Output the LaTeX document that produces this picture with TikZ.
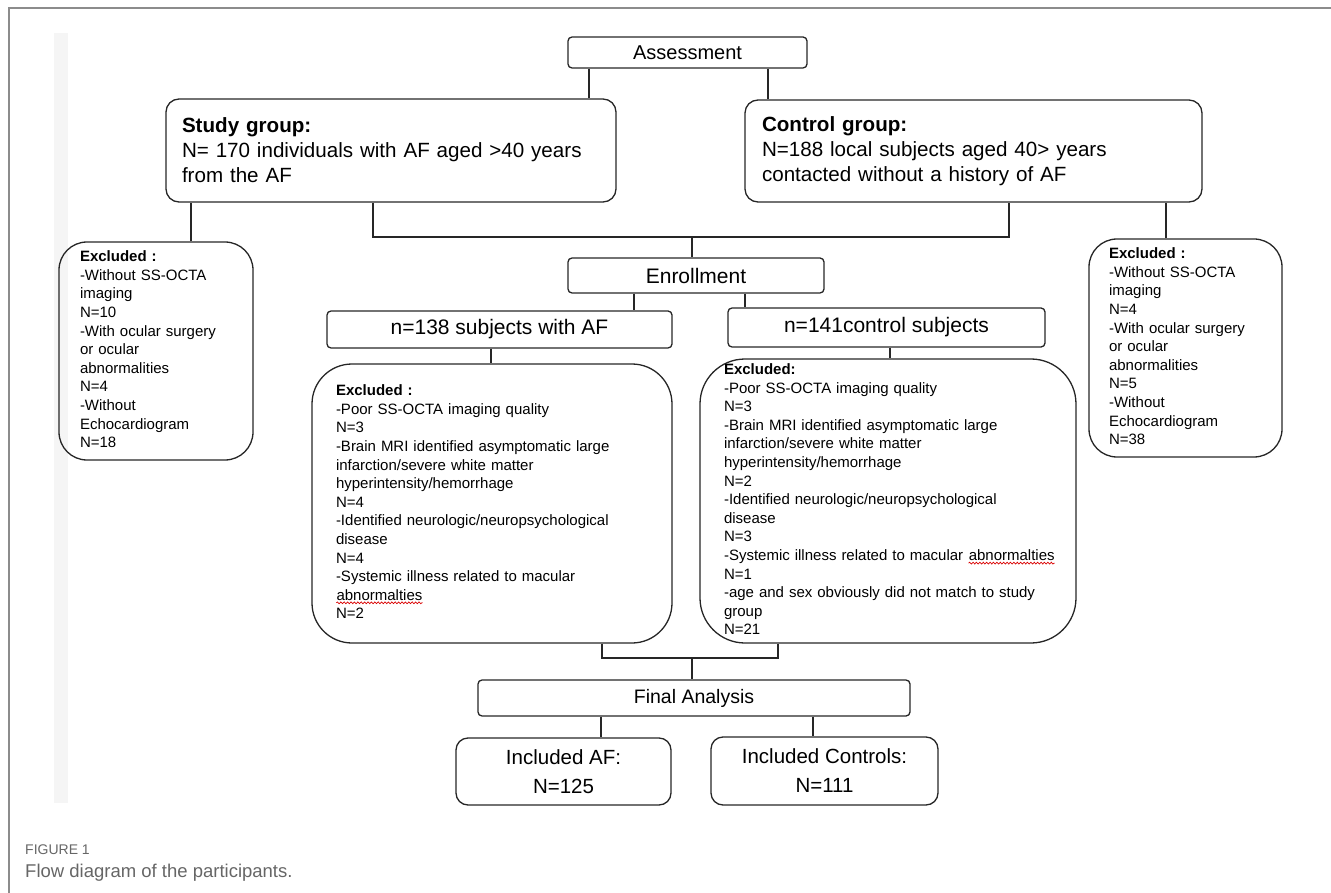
\documentclass[tikz,border=0pt]{standalone}
\usepackage{fontspec}
\setmainfont{Liberation Sans}
\usetikzlibrary{positioning,decorations.pathmorphing}
\newcommand{\typo}[1]{\tikz[baseline=(w.base)]{\node[inner sep=0pt, minimum size=0pt, text width={}, draw=none, rounded corners=0pt] (w) {#1}; \draw[sharp corners, red!85!black, line width=0.7pt, decorate, decoration={snake, amplitude=0.9pt, segment length=3.4pt}] ([yshift=-2.6pt]w.base west) -- ([yshift=-2.6pt]w.base east);}}

\begin{document}
\begin{tikzpicture}[x=1pt,y=-1pt]
    \tikzstyle{link} = [line width=1.3pt, draw=black!85]
       \tikzset{stage/.style = {rectangle, draw=black!85, line width=1.3pt, rounded corners=4pt, inner sep=0pt, text centered}, }
       \tikzset{group/.style = {rectangle, draw=black!85, line width=1.3pt, rounded corners=13pt, align=left, inner ysep=0pt, font=\fontsize{20.6}{25}\selectfont}, }
       \tikzset{excl/.style = {rectangle, draw=black!85, line width=1.3pt, align=left, inner ysep=0pt, font=\fontsize{15}{18.6}\selectfont}, }
       \tikzset{result/.style = {rectangle, draw=black!85, line width=1.3pt, rounded corners=12pt, align=center, inner sep=0pt, font=\fontsize{20.5}{29}\selectfont}, }

       \useasboundingbox (0,0) rectangle (1331,893);
       \fill[black!4] (54,33) rectangle (68,803);
       \draw[black!45, line width=1.2pt] (9,893) -- (9,8) -- (1331,8);

       \node[stage, minimum width=239pt, minimum height=31pt, font=\fontsize{20}{24}\selectfont] (assess) at (687.5,52.5) {Assessment};
       \node[group, text width=418pt, inner xsep=16pt, minimum height=103pt] (study) at (391,150.5) {\textbf{Study group:}\\
       N= 170 individuals with AF aged >40 years\\
       from the AF};
       \node[group, text width=423pt, inner xsep=17pt, minimum height=102pt] (control) at (973.5,151) {\textbf{Control group:}\\
       N=188 local subjects aged 40> years\\
       contacted without a history of AF};
       \node[excl, text width=152pt, inner xsep=21pt, minimum height=218pt, rounded corners=28pt] (exclL) at (156,351) {\begin{tabular}{@{}l@{}}
       \textbf{Excluded :}\\
       -Without SS-OCTA\\
       imaging\\
       N=10\\
       -With ocular surgery\\
       or ocular\\
       abnormalities\\
       N=4\\
       -Without\\
       Echocardiogram\\
       N=18
       \end{tabular}};
       \node[excl, text width=153pt, inner xsep=20pt, minimum height=218pt, rounded corners=28pt] (exclR) at (1185.5,348) {\begin{tabular}{@{}l@{}}
       \textbf{Excluded :}\\
       -Without SS-OCTA\\
       imaging\\
       N=4\\
       -With ocular surgery\\
       or ocular\\
       abnormalities\\
       N=5\\
       -Without\\
       Echocardiogram\\
       N=38
       \end{tabular}};
       \node[stage, minimum width=256pt, minimum height=35pt, font=\fontsize{21}{25}\selectfont] (enroll) at (696,275.5) {Enrollment};
       \node[stage, minimum width=345pt, minimum height=37pt, font=\fontsize{21}{25}\selectfont] (n138) at (499.5,329.5) {n=138 subjects with AF};
       \node[stage, minimum width=317pt, minimum height=39pt, font=\fontsize{21}{25}\selectfont] (n141) at (886.5,327.5) {n=141control subjects};
       \node[excl, text width=312pt, inner xsep=24pt, minimum height=279pt, rounded corners=40pt] (exclA) at (492,503.5) {\begin{tabular}{@{}l@{}}
       \textbf{Excluded :}\\
       -Poor SS-OCTA imaging quality\\
       N=3\\
       -Brain MRI identified asymptomatic large\\
       infarction/severe white matter\\
       hyperintensity/hemorrhage\\
       N=4\\
       -Identified neurologic/neuropsychological\\
       disease\\
       N=4\\
       -Systemic illness related to macular\\
       \typo{abnormalties}\\
       N=2
       \end{tabular}};
       \node[excl, text width=328pt, inner xsep=24pt, minimum height=284pt, rounded corners=45pt] (exclC) at (888,501) {\begin{tabular}{@{}l@{}}
       \textbf{Excluded:}\\
       -Poor SS-OCTA imaging quality\\
       N=3\\
       -Brain MRI identified asymptomatic large\\
       infarction/severe white matter\\
       hyperintensity/hemorrhage\\
       N=2\\
       -Identified neurologic/neuropsychological\\
       disease\\
       N=3\\
       -Systemic illness related to macular \typo{abnormalties}\\
       N=1\\
       -age and sex obviously did not match to study\\
       group\\
       N=21
       \end{tabular}};
       \node[stage, minimum width=432pt, minimum height=36pt, font=\fontsize{19.5}{24}\selectfont] (final) at (694,698) {Final Analysis};
       \node[result, minimum width=215pt, minimum height=67pt] (incAF) at (563.5,771.5) {Included AF:\\ N=125};
       \node[result, minimum width=227pt, minimum height=68pt] (incCtl) at (824.5,771) {Included Controls:\\ N=111};

       \node[anchor=west, inner sep=0pt, text=black!60, font=\fontsize{14}{16}\selectfont] (fig) at (25,850) {FIGURE 1};
       \node[anchor=west, inner sep=0pt, text=black!60, font=\fontsize{18.5}{22}\selectfont] (caption) at (25,873) {Flow diagram of the participants.};

       \coordinate (split) at (692,237);
       \coordinate (merge) at (692,658);

       \draw[link] ([xshift=-98.5pt]assess.south) -- ([xshift=-98.5pt]assess.south |- study.north);
       \draw[link] ([xshift=80.5pt]assess.south) -- ([xshift=80.5pt]assess.south |- control.north);
       \draw[link] ([xshift=35pt]exclL.north) -- ([xshift=35pt]exclL.north |- study.south);
       \draw[link] ([xshift=-19.5pt]exclR.north) -- ([xshift=-19.5pt]exclR.north |- control.south);
       \draw[link] ([xshift=-18pt]study.south) |- (split) -| ([xshift=35.5pt]control.south);
       \draw[link] (split) -- (split |- enroll.north);
       \draw[link] ([xshift=-62pt]enroll.south) -- ([xshift=-62pt]enroll.south |- n138.north);
       \draw[link] ([xshift=49pt]enroll.south) -- ([xshift=49pt]enroll.south |- n141.north);
       \draw[link] ([xshift=-8.5pt]n138.south) -- ([xshift=-8.5pt]n138.south |- exclA.north);
       \draw[link] ([xshift=3.5pt]n141.south) -- ([xshift=3.5pt]n141.south |- exclC.north);
       \draw[link] ([xshift=110pt]exclA.south) |- (merge) -| ([xshift=-110pt]exclC.south);
       \draw[link] (merge) -- (merge |- final.north);
       \draw[link] ([xshift=-93pt]final.south) -- ([xshift=-93pt]final.south |- incAF.north);
       \draw[link] ([xshift=119pt]final.south) -- ([xshift=119pt]final.south |- incCtl.north);

\end{tikzpicture}
\end{document}
